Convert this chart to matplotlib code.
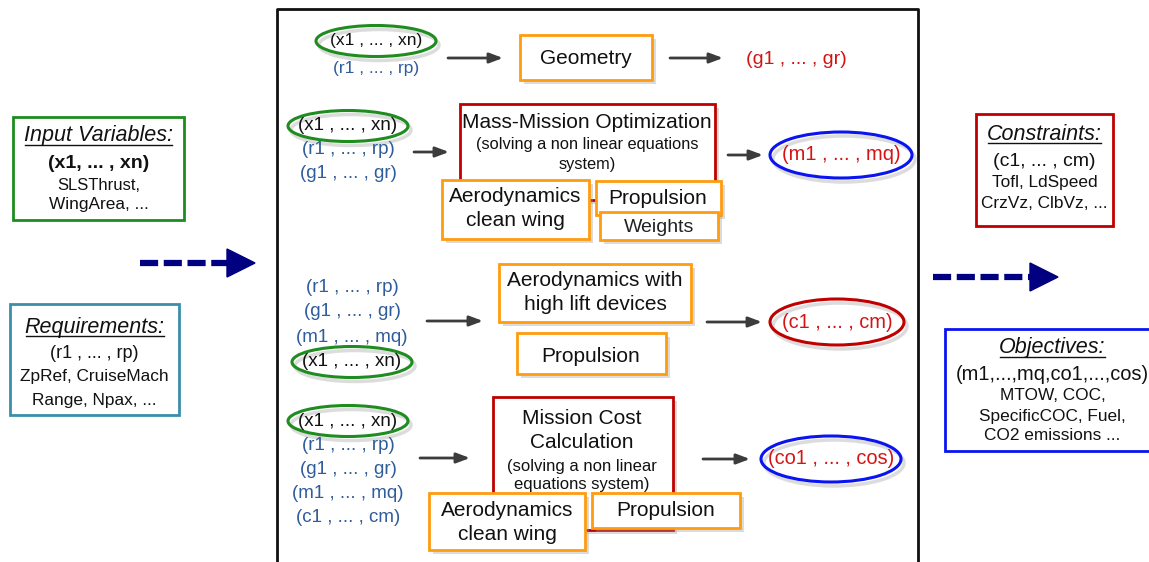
import matplotlib.pyplot as plt
from matplotlib.patches import Rectangle, Ellipse, Polygon

plt.rcParams["font.family"] = ["Liberation Sans", "DejaVu Sans"]

# ==========================
# TEXTS
# ==========================

input_title = "Input Variables:"
input_lines = ["(x1, ... , xn)", "SLSThrust,", "WingArea, ..."]

req_title = "Requirements:"
req_lines = ["(r1 , ... , rp)", "ZpRef, CruiseMach", "Range, Npax, ..."]

cons_title = "Constraints:"
cons_lines = ["(c1, ... , cm)", "Tofl, LdSpeed", "CrzVz, ClbVz, ..."]

obj_title = "Objectives:"
obj_lines = ["(m1,...,mq,co1,...,cos)", "MTOW, COC,", "SpecificCOC, Fuel,", "CO2 emissions ..."]

X = "(x1 , ... , xn)"
R = "(r1 , ... , rp)"
G = "(g1 , ... , gr)"
M = "(m1 , ... , mq)"
C = "(c1 , ... , cm)"
CO = "(co1 , ... , cos)"

# inputs of each module: (text, circled)
row_inputs = [
    [(X, True), (R, False)],
    [(X, True), (R, False), (G, False)],
    [(R, False), (G, False), (M, False), (X, True)],
    [(X, True), (R, False), (G, False), (M, False), (C, False)],
]
row_outputs = [G, M, C, CO]

geom_label = "Geometry"
mass_label = ["Mass-Mission Optimization", "(solving a non linear equations", "system)"]
aero_clean = ["Aerodynamics", "clean wing"]
prop_label = "Propulsion"
weights_label = "Weights"
aero_high = ["Aerodynamics with", "high lift devices"]
cost_label = ["Mission Cost", "Calculation", "(solving a non linear", "equations system)"]

# ==========================
# STYLE
# ==========================

ORANGE = "#FF9C0F"
DRED = "#C00000"
GREEN = "#1E8C1E"
TEAL = "#3A8FA8"
BLUE_TXT = "#2F5C9C"
RED_TXT = "#D41414"
BLUE = "#0A14F0"
NAVY = "#000080"
ARROW = "#3C3C3C"
BIG = 15

fig = plt.figure(figsize=(11.49, 5.62), dpi=100)
ax = fig.add_axes([0, 0, 1, 1])
ax.set_xlim(0, 1149)
ax.set_ylim(562, 0)
ax.axis("off")


def box(x0, y0, x1, y1, color, lw=2.0, shadow=True, z=2):
    if shadow:
        ax.add_patch(Rectangle((x0 + 4, y0 + 4), x1 - x0, y1 - y0,
                               facecolor="#999999", edgecolor="none",
                               alpha=0.35, zorder=z - 0.5))
    ax.add_patch(Rectangle((x0, y0), x1 - x0, y1 - y0, facecolor="white",
                           edgecolor=color, linewidth=lw, zorder=z))


def lines(xc, ys, texts, size=BIG, color="#111111", weight="normal", z=3):
    for y, t in zip(ys, texts):
        ax.text(xc, y, t, ha="center", va="center", fontsize=size,
                color=color, fontweight=weight, zorder=z)


def arrow(x0, x1, y):
    ax.annotate("", xy=(x1, y), xytext=(x0, y),
                arrowprops=dict(arrowstyle="-|>,head_length=0.8,head_width=0.3",
                                color=ARROW, lw=2.0, shrinkA=0, shrinkB=0),
                zorder=3)


def dashed_arrow(x0, x1, y):
    ax.plot([x0, x1 - 27], [y, y], color=NAVY, lw=4.5,
            dashes=(2.9, 0.9), solid_capstyle="butt", zorder=3)
    ax.add_patch(Polygon([(x1 - 28, y - 14), (x1, y), (x1 - 28, y + 14)],
                         closed=True, color=NAVY, zorder=3))


def ellipse(xc, yc, w, h, color):
    ax.add_patch(Ellipse((xc + 3, yc + 4), w, h, facecolor="none",
                         edgecolor="#bbbbbb", lw=2.5, alpha=0.5, zorder=2))
    ax.add_patch(Ellipse((xc, yc), w, h, facecolor="none", edgecolor=color,
                         lw=2.2, zorder=4))


underlined = []


def titled_box(x0, y0, x1, y1, color, title, body, ys, body_sizes):
    box(x0, y0, x1, y1, color, shadow=False)
    xc = (x0 + x1) / 2
    t = ax.text(xc, ys[0], title, ha="center", va="center", fontsize=15.5,
                style="italic", color="#111111", zorder=3)
    underlined.append(t)
    for y, s, (size, weight) in zip(ys[1:], body, body_sizes):
        ax.text(xc, y, s, ha="center", va="center", fontsize=size,
                fontweight=weight, color="#111111", zorder=3)


# ==========================
# MAIN FRAME
# ==========================

ax.plot([277, 277, 918, 918], [565, 9, 9, 565], color="#111111", lw=2, zorder=1)

# ==========================
# LEFT / RIGHT BOXES
# ==========================

titled_box(13, 117, 184, 220, GREEN, input_title, input_lines,
           [136, 163, 185, 205], [(14, "bold"), (12, "normal"), (12.4, "normal")])
titled_box(10, 304, 179, 415, TEAL, req_title, req_lines,
           [327, 354, 377, 401], [(13, "normal"), (12.4, "normal"), (12.4, "normal")])
titled_box(976, 114, 1113, 226, DRED, cons_title, cons_lines,
           [134, 161, 183, 203], [(14, "normal"), (12.4, "normal"), (12.4, "normal")])
titled_box(945, 329, 1160, 451, BLUE, obj_title, obj_lines,
           [348, 375, 396, 416, 435], [(14.4, "normal"), (12.4, "normal"),
                                       (12.4, "normal"), (12.4, "normal")])

dashed_arrow(140, 255, 263)
dashed_arrow(933, 1058, 277)

# ==========================
# ROW INPUTS
# ==========================

row_cfg = [
    # x centre, first y, step, font size, arrow x0, x1, y
    (376, 41, 28, 12.5, 448, 503, 58),
    (348, 126, 24, 13.5, 414, 449, 152),
    (352, 287, 25, 13.5, 427, 483, 321),
    (348, 421, 24, 13.5, 420, 470, 458),
]

for inputs, (xc, y0, dy, fs, ax0, ax1, ay) in zip(row_inputs, row_cfg):
    for i, (label, circled) in enumerate(inputs):
        y = y0 + i * dy
        if circled:
            ax.text(xc, y, label, ha="center", va="center", fontsize=fs,
                    color="#111111", zorder=5)
            ellipse(xc, y, 120, 31, GREEN)
        else:
            ax.text(xc, y, label, ha="center", va="center", fontsize=fs,
                    color=BLUE_TXT, zorder=5)
    arrow(ax0, ax1, ay)

# ==========================
# MODULES
# ==========================

# row 1
box(520, 35, 652, 80, ORANGE)
lines(586, [58], [geom_label])
arrow(670, 723, 58)
ax.text(796, 60, row_outputs[0], ha="center", va="center", fontsize=14,
        color=RED_TXT, zorder=3)

# row 2
box(460, 104, 715, 200, DRED)
lines(587, [123], mass_label[:1])
lines(587, [145, 164], mass_label[1:], size=11.8)
box(442, 180, 589, 239, ORANGE, z=6)
lines(515, [197, 221], aero_clean, z=7)
box(596, 181, 721, 215, ORANGE, z=6)
lines(658, [198], [prop_label], z=7)
box(600, 212, 718, 240, ORANGE, z=8)
ax.text(659, 227, weights_label, ha="center", va="center", fontsize=14,
        color="#222222", zorder=9)
arrow(728, 763, 155)
ellipse(841, 155, 142, 46, BLUE)
ax.text(841, 155, row_outputs[1], ha="center", va="center", fontsize=14.4,
        color=RED_TXT, zorder=5)

# row 3
box(499, 264, 691, 322, ORANGE)
lines(595, [281, 305], aero_high)
box(517, 333, 666, 374, ORANGE)
lines(591, [356], [prop_label])
arrow(707, 762, 322)
ellipse(837, 322, 134, 46, DRED)
ax.text(837, 322, row_outputs[2], ha="center", va="center", fontsize=14.4,
        color=RED_TXT, zorder=5)

# row 4
box(493, 397, 673, 530, DRED)
lines(582, [418, 443], cost_label[:2])
lines(582, [466, 485], cost_label[2:], size=12)
box(429, 493, 585, 550, ORANGE, z=6)
lines(507, [510, 535], aero_clean, z=7)
box(592, 493, 740, 528, ORANGE, z=6)
lines(666, [510], [prop_label], z=7)
arrow(703, 750, 459)
ellipse(831, 459, 140, 46, BLUE)
ax.text(831, 459, row_outputs[3], ha="center", va="center", fontsize=14.4,
        color=RED_TXT, zorder=5)

# underline the box titles
fig.canvas.draw()
inv = ax.transData.inverted()
for t in underlined:
    bb = t.get_window_extent()
    (x0, y0), (x1, y1) = inv.transform([(bb.x0, bb.y0), (bb.x1, bb.y1)])
    ax.plot([x0 + 1, x1 - 1], [y0 - 2, y0 - 2], color="#111111", lw=1.0, zorder=3)

fig.savefig("out.png", dpi=100)
